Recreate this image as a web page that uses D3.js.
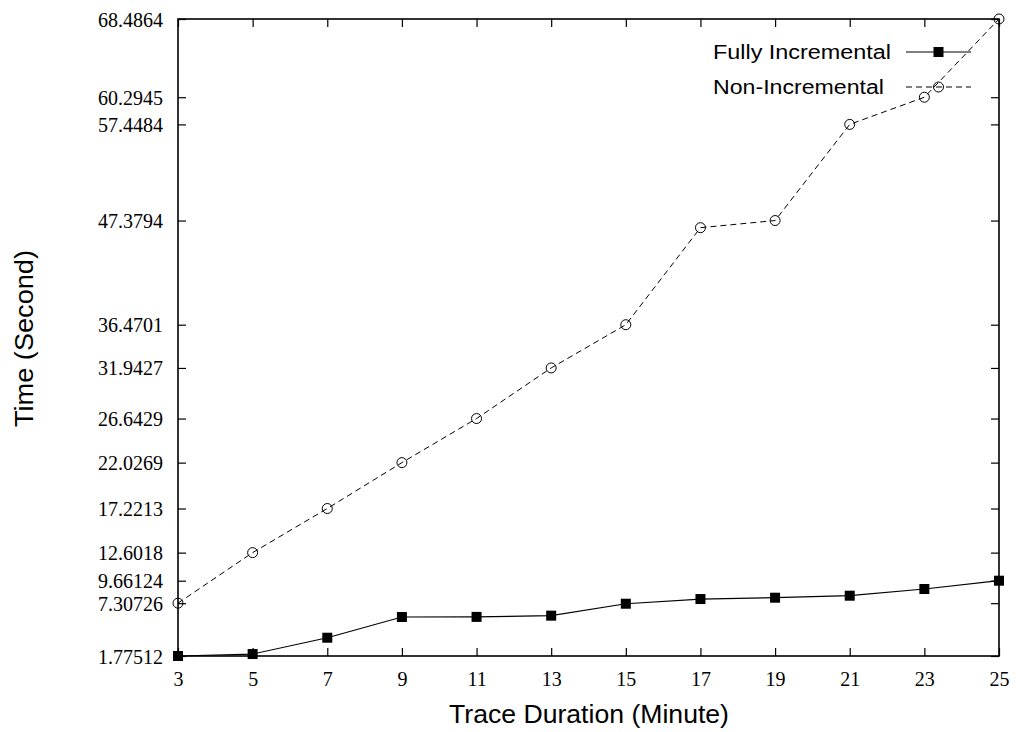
<!DOCTYPE html>
<html>
<head>
<meta charset="utf-8">
<script src="https://cdn.jsdelivr.net/npm/d3@7"></script>
<style>
  html, body { margin: 0; padding: 0; background: #fff; }
  svg { display: block; }
</style>
</head>
<body>
<svg id="chart" width="1016" height="732"></svg>
<script>
// Trace duration in minutes
const durations = [3, 5, 7, 9, 11, 13, 15, 17, 19, 21, 23, 25];
// Processing time in seconds
const fullyIncremental = [1.77512, 1.98, 3.69, 5.86, 5.87, 6.0, 7.25, 7.74, 7.88, 8.09, 8.79, 9.66124];
const nonIncremental = [7.30726, 12.6018, 17.2213, 22.0269, 26.6429, 31.9427, 36.4701, 46.63, 47.3794, 57.4484, 60.2945, 68.4864];
const yTickValues = [1.77512, 7.30726, 9.66124, 12.6018, 17.2213, 22.0269, 26.6429, 31.9427, 36.4701, 47.3794, 57.4484, 60.2945, 68.4864];
const seriesNames = ["Fully Incremental", "Non-Incremental"];

const svg = d3.select("#chart");
const plotLeft = 178, plotRight = 999, plotTop = 19, plotBottom = 656;

const x = d3.scaleLinear().domain([3, 25]).range([plotLeft, plotRight]);
const y = d3.scaleLinear().domain([1.77512, 68.4864]).range([plotBottom, plotTop]);

const serif = "'Liberation Serif', 'DejaVu Serif', serif";
const sans = "'Liberation Sans', Arial, sans-serif";
const tickLen = 8;

// Bottom axis with tick labels; ticks point into the plot
const xAxis = svg.append("g").attr("transform", `translate(0,${plotBottom})`)
  .call(d3.axisBottom(x).tickValues(durations).tickFormat(d3.format("d"))
    .tickSizeInner(-tickLen).tickSizeOuter(0).tickPadding(16));
// Mirrored ticks at the top
const xAxisTop = svg.append("g").attr("transform", `translate(0,${plotTop})`)
  .call(d3.axisTop(x).tickValues(durations).tickFormat("")
    .tickSizeInner(-tickLen).tickSizeOuter(0));
// Left axis with tick labels
const yAxis = svg.append("g").attr("transform", `translate(${plotLeft},0)`)
  .call(d3.axisLeft(y).tickValues(yTickValues).tickFormat(d => String(d))
    .tickSizeInner(-tickLen).tickSizeOuter(0).tickPadding(15));
// Mirrored ticks on the right
const yAxisRight = svg.append("g").attr("transform", `translate(${plotRight},0)`)
  .call(d3.axisRight(y).tickValues(yTickValues).tickFormat("")
    .tickSizeInner(-tickLen).tickSizeOuter(0));

[xAxis, xAxisTop, yAxis, yAxisRight].forEach(g => {
  g.select(".domain").remove();
  g.selectAll(".tick line").attr("stroke", "#000").attr("stroke-width", 1.2);
  g.selectAll(".tick text").attr("font-family", serif).attr("font-size", 20).attr("fill", "#000");
});
yAxis.selectAll(".tick text").attr("dy", "0.35em");

// Plot frame
svg.append("rect")
  .attr("x", plotLeft).attr("y", plotTop)
  .attr("width", plotRight - plotLeft).attr("height", plotBottom - plotTop)
  .attr("fill", "none").attr("stroke", "#000").attr("stroke-width", 1.6);

const line = d3.line().x(d => x(d[0])).y(d => y(d[1]));
const nonData = durations.map((d, i) => [d, nonIncremental[i]]);
const fullData = durations.map((d, i) => [d, fullyIncremental[i]]);

// Non-incremental: dashed line with open circles
svg.append("path").datum(nonData)
  .attr("d", line).attr("fill", "none").attr("stroke", "#000")
  .attr("stroke-width", 1).attr("stroke-dasharray", "6,4");
svg.append("g").selectAll("circle").data(nonData).join("circle")
  .attr("cx", d => x(d[0])).attr("cy", d => y(d[1])).attr("r", 5)
  .attr("fill", "none").attr("stroke", "#000").attr("stroke-width", 1);

// Fully incremental: solid line with filled squares
svg.append("path").datum(fullData)
  .attr("d", line).attr("fill", "none").attr("stroke", "#000").attr("stroke-width", 1.2);
const sq = 10;
svg.append("g").selectAll("rect").data(fullData).join("rect")
  .attr("x", d => x(d[0]) - sq / 2).attr("y", d => y(d[1]) - sq / 2)
  .attr("width", sq).attr("height", sq).attr("fill", "#000");

// Legend: wide sans labels, left-aligned
const legend = svg.append("g");
const legendRows = [52, 87];
const legendWidths = [178, 171];
legend.selectAll("text").data(seriesNames).join("text")
  .attr("x", 713).attr("y", (d, i) => legendRows[i] + 7)
  .attr("textLength", (d, i) => legendWidths[i]).attr("lengthAdjust", "spacingAndGlyphs")
  .attr("font-family", sans).attr("font-size", 20)
  .attr("fill", "#000").text(d => d);
legend.append("line").attr("x1", 906).attr("x2", 971)
  .attr("y1", legendRows[0]).attr("y2", legendRows[0])
  .attr("stroke", "#000").attr("stroke-width", 1.2);
legend.append("rect").attr("x", 938.5 - sq / 2).attr("y", legendRows[0] - sq / 2)
  .attr("width", sq).attr("height", sq).attr("fill", "#000");
legend.append("line").attr("x1", 906).attr("x2", 971)
  .attr("y1", legendRows[1]).attr("y2", legendRows[1])
  .attr("stroke", "#000").attr("stroke-width", 1).attr("stroke-dasharray", "6,4");
legend.append("circle").attr("cx", 938.5).attr("cy", legendRows[1]).attr("r", 5)
  .attr("fill", "none").attr("stroke", "#000").attr("stroke-width", 1);

// Axis titles
svg.append("text").attr("x", 449).attr("y", 723)
  .attr("textLength", 280).attr("lengthAdjust", "spacingAndGlyphs")
  .attr("font-family", sans).attr("font-size", 25)
  .attr("fill", "#000").text("Trace Duration (Minute)");
svg.append("text").attr("transform", "translate(33,427) rotate(-90)")
  .attr("textLength", 177).attr("lengthAdjust", "spacingAndGlyphs")
  .attr("font-family", sans).attr("font-size", 25)
  .attr("fill", "#000").text("Time (Second)");
</script>
</body>
</html>
